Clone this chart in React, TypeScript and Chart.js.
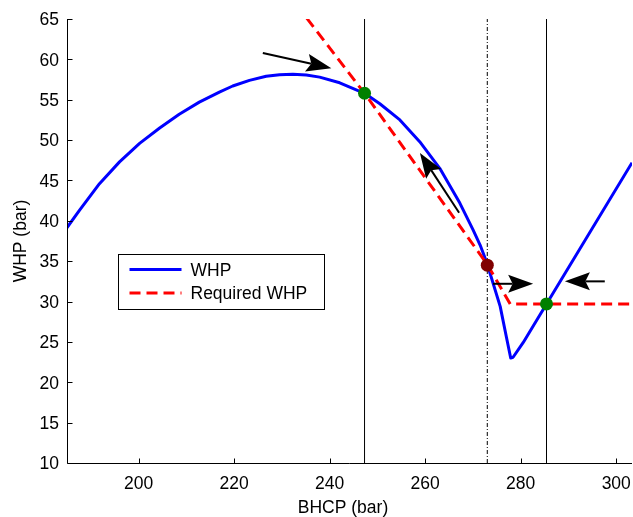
import React, { useEffect, useRef } from "react";
import { Chart, registerables } from "chart.js";
Chart.register(...registerables);

const FONT = "'Liberation Sans', Arial, Helvetica, sans-serif";
const FS = 17.5;

const xTicks = [200, 220, 240, 260, 280, 300];
const yTicks = [10, 15, 20, 25, 30, 35, 40, 45, 50, 55, 60, 65];
const xMin = 185;
const xMax = 303.3;
const yMin = 10;
const yMax = 65;
const xTitle = "BHCP (bar)";
const yTitle = "WHP (bar)";
const seriesLabels = ["WHP", "Required WHP"];

const whpX = [184.9, 187.6, 191.8, 196.0, 200.2, 204.4, 208.5, 212.7, 216.9, 219.7, 223.2, 226.7, 229.5, 232.3, 235.1, 237.9, 242.1, 247.3, 250.5, 254.7, 258.85, 263.05, 267.25, 270.0, 271.5, 272.9, 275.7, 277.0, 277.9, 278.4, 280.5, 285.4, 303.3];
const whpY = [39.07, 41.3, 44.6, 47.3, 49.6, 51.5, 53.2, 54.7, 55.95, 56.7, 57.4, 57.9, 58.1, 58.15, 58.05, 57.8, 57.1, 55.8, 54.5, 52.5, 49.8, 46.5, 42.2, 38.9, 37.0, 34.8, 29.4, 25.6, 23.0, 23.1, 24.9, 29.7, 47.2];

const reqX = [235.2, 247.3, 273.0, 277.8, 303.3];
const reqY = [65.1, 55.8, 34.6, 29.7, 29.7];

const stableX = [247.3, 285.4];
const stableY = [55.8, 29.7];
const unstableX = [273.0];
const unstableY = [34.5];

const vSolidX = [247.3, 285.4];
const vDashX = [273.0];

const arrowFromX = [226.0, 267.1, 274.2, 297.6];
const arrowFromY = [60.8, 41.0, 32.2, 32.5];
const arrowToX = [240.35, 258.9, 282.6, 289.25];
const arrowToY = [58.9, 48.4, 32.2, 32.5];

const zip = (xs: number[], ys: number[]) => xs.map((x, i) => ({ x, y: ys[i] }));

function drawArrow(ctx: CanvasRenderingContext2D, x1: number, y1: number, x2: number, y2: number) {
  const ang = Math.atan2(y2 - y1, x2 - x1);
  const len = 25, hw = 9, notch = 4.5;
  const c = Math.cos(ang), s = Math.sin(ang);
  const bx = x2 - c * (len - notch), by = y2 - s * (len - notch);
  ctx.lineWidth = 2;
  ctx.beginPath();
  ctx.moveTo(x1, y1);
  ctx.lineTo(bx, by);
  ctx.stroke();
  const cx = x2 - c * len, cy = y2 - s * len;
  ctx.beginPath();
  ctx.moveTo(x2, y2);
  ctx.lineTo(cx - s * hw, cy + c * hw);
  ctx.lineTo(bx, by);
  ctx.lineTo(cx + s * hw, cy - c * hw);
  ctx.closePath();
  ctx.fill();
}

const customPlugin = {
  id: "custom",
  afterDatasetsDraw(chart: any) {
    const { ctx, chartArea: a, scales } = chart;
    const x = scales.x, y = scales.y;
    ctx.save();
    ctx.strokeStyle = "#000";
    ctx.fillStyle = "#000";
    ctx.lineWidth = 1;
    const L = Math.round(a.left) + 0.5;
    const B = Math.round(a.bottom) + 0.5;
    ctx.beginPath();
    ctx.moveTo(L, a.top);
    ctx.lineTo(L, B);
    ctx.lineTo(a.right, B);
    xTicks.forEach((v) => {
      const px = Math.round(x.getPixelForValue(v)) + 0.5;
      ctx.moveTo(px, B);
      ctx.lineTo(px, B - 5);
    });
    yTicks.forEach((v) => {
      const py = Math.round(y.getPixelForValue(v)) + 0.5;
      ctx.moveTo(L, py);
      ctx.lineTo(L + 5, py);
    });
    ctx.stroke();

    ctx.font = `${FS}px ${FONT}`;
    ctx.textBaseline = "alphabetic";
    ctx.textAlign = "center";
    xTicks.forEach((v) => {
      ctx.fillText(String(v), x.getPixelForValue(v), a.bottom + 25.5);
    });
    ctx.textAlign = "right";
    yTicks.forEach((v) => {
      ctx.fillText(String(v), a.left - 8, y.getPixelForValue(v) + 6.3);
    });
    ctx.textAlign = "center";
    ctx.fillText(xTitle, a.left + 276, a.bottom + 50);
    ctx.save();
    ctx.translate(26, (a.top + a.bottom) / 2);
    ctx.rotate(-Math.PI / 2);
    ctx.fillText(yTitle, 0, 0);
    ctx.restore();

    for (let i = 0; i < arrowFromX.length; i++) {
      drawArrow(
        ctx,
        x.getPixelForValue(arrowFromX[i]),
        y.getPixelForValue(arrowFromY[i]),
        x.getPixelForValue(arrowToX[i]),
        y.getPixelForValue(arrowToY[i])
      );
    }

    const lx = Math.round(a.left) + 51.5;
    const ly = Math.round(a.top) + 235.5;
    const lw = 206, lh = 55;
    ctx.fillStyle = "#fff";
    ctx.fillRect(lx, ly, lw, lh);
    ctx.lineWidth = 1;
    ctx.strokeStyle = "#000";
    ctx.strokeRect(lx, ly, lw, lh);
    const rows = [
      { label: seriesLabels[0], color: "rgb(0,0,255)", dash: [] as number[] },
      { label: seriesLabels[1], color: "rgb(255,0,0)", dash: [11, 6] },
    ];
    rows.forEach((r, i) => {
      const yy = ly + 15 + i * 23.4;
      ctx.beginPath();
      ctx.setLineDash(r.dash);
      ctx.strokeStyle = r.color;
      ctx.lineWidth = 3;
      ctx.moveTo(lx + 11, yy);
      ctx.lineTo(lx + 63, yy);
      ctx.stroke();
      ctx.setLineDash([]);
      ctx.fillStyle = "#000";
      ctx.textAlign = "left";
      ctx.fillText(r.label, lx + 72, yy + 6.5);
    });
    ctx.restore();
  },
};

export default function App() {
  const ref = useRef<HTMLCanvasElement>(null);
  useEffect(() => {
    if (!ref.current) return;
    const chart = new Chart(ref.current, {
      type: "scatter",
      data: {
        datasets: [
          {
            label: "stable",
            data: zip(stableX, stableY),
            pointRadius: 6.5,
            pointBackgroundColor: "rgb(0,128,0)",
            pointBorderWidth: 0,
            showLine: false,
            order: 0,
          },
          {
            label: "unstable",
            data: zip(unstableX, unstableY),
            pointRadius: 6.5,
            pointBackgroundColor: "rgb(128,0,0)",
            pointBorderWidth: 0,
            showLine: false,
            order: 0,
          },
          {
            label: seriesLabels[1],
            data: zip(reqX, reqY),
            showLine: true,
            borderColor: "rgb(255,0,0)",
            borderWidth: 3,
            borderDash: [11, 6],
            pointRadius: 0,
            order: 1,
          },
          {
            label: seriesLabels[0],
            data: zip(whpX, whpY),
            showLine: true,
            borderColor: "rgb(0,0,255)",
            borderWidth: 3,
            tension: 0,
            borderJoinStyle: "round",
            pointRadius: 0,
            order: 2,
          },
          ...vSolidX.map((vx) => ({
            label: "v",
            data: [{ x: vx, y: yMin }, { x: vx, y: yMax }],
            showLine: true,
            borderColor: "#000",
            borderWidth: 1,
            pointRadius: 0,
            order: 3,
          })),
          ...vDashX.map((vx) => ({
            label: "vd",
            data: [{ x: vx, y: yMin }, { x: vx, y: yMax }],
            showLine: true,
            borderColor: "#000",
            borderWidth: 1,
            borderDash: [4, 2, 1, 2],
            pointRadius: 0,
            order: 3,
          })),
        ],
      },
      options: {
        animation: false,
        responsive: false,
        devicePixelRatio: 1,
        events: [],
        layout: { autoPadding: false, padding: { top: 19, right: 1, bottom: 0, left: 0 } },
        plugins: { legend: { display: false }, tooltip: { enabled: false } },
        scales: {
          x: {
            type: "linear",
            min: xMin,
            max: xMax,
            grid: { display: false, drawTicks: false },
            border: { display: false },
            ticks: { display: false },
            afterBuildTicks: (s: any) => {
              s.ticks = xTicks.map((v) => ({ value: v }));
            },
            afterFit: (s: any) => {
              s.height = 54;
              s.paddingLeft = 0;
              s.paddingRight = 0;
            },
          },
          y: {
            type: "linear",
            min: yMin,
            max: yMax,
            grid: { display: false, drawTicks: false },
            border: { display: false },
            ticks: { display: false },
            afterBuildTicks: (s: any) => {
              s.ticks = yTicks.map((v) => ({ value: v }));
            },
            afterFit: (s: any) => {
              s.width = 67;
              s.paddingTop = 0;
              s.paddingBottom = 0;
            },
          },
        },
      },
      plugins: [customPlugin],
    } as any);
    return () => chart.destroy();
  }, []);
  return (
    <div style={{ position: "absolute", left: 0, top: 0, width: 633, height: 517 }}>
      <canvas ref={ref} width={633} height={517} style={{ display: "block" }} />
    </div>
  );
}
